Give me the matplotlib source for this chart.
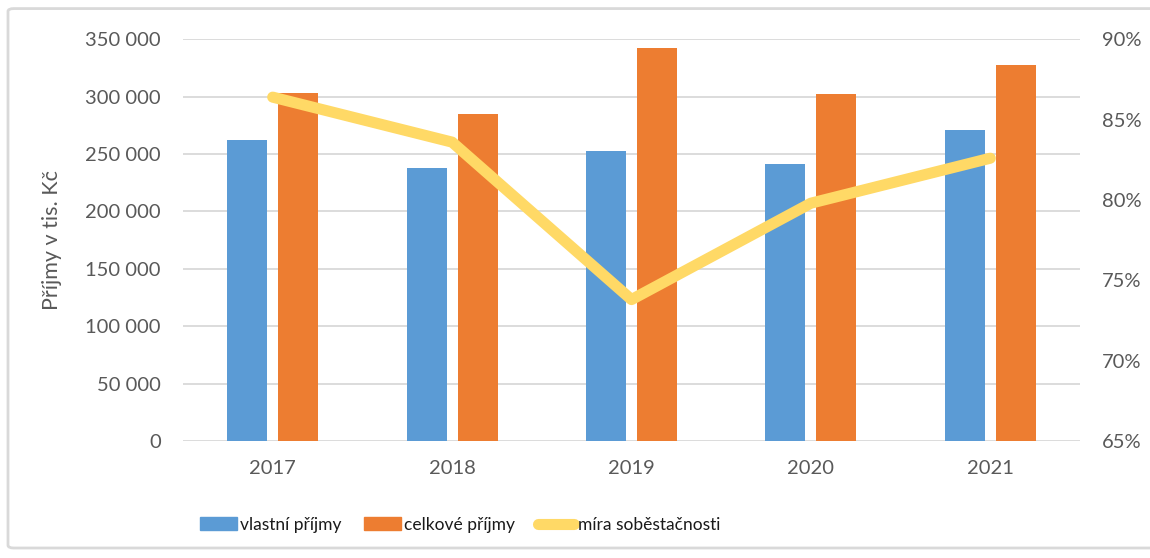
import matplotlib.pyplot as plt
import matplotlib.ticker as mticker
from matplotlib.patches import FancyBboxPatch
from matplotlib.lines import Line2D
from matplotlib.patches import Patch
import numpy as np

years = ["2017", "2018", "2019", "2020", "2021"]
vlastni = [262300, 237900, 252400, 241400, 270700]
celkove = [303500, 284700, 342200, 302600, 327900]
mira = [86.4, 83.6, 73.8, 79.8, 82.6]

BLUE = "#5B9BD5"
ORANGE = "#ED7D31"
YELLOW = "#FFD966"
GRID = "#D9D9D9"
TXT = "#595959"

plt.rcParams['font.family'] = ['Lato', 'DejaVu Sans']

fig = plt.figure(figsize=(11.5, 5.58), dpi=100)
W, H = 1150, 558

# chart border
border = FancyBboxPatch((8 / W, 10 / H), 1.2, (555 - 10) / H - 0.01,
                        boxstyle="round,pad=0,rounding_size=0.005",
                        transform=fig.transFigure, facecolor="white",
                        edgecolor=GRID, linewidth=2, zorder=-5)
fig.patches.append(border)

ax = fig.add_axes([183 / W, 1 - 441 / H, (1080 - 183) / W, (441 - 39.3) / H])
ax.set_facecolor("none")
x = np.arange(len(years))
bw = 0.223
off = 0.142
ax.bar(x - off, vlastni, bw, color=BLUE, zorder=2)
ax.bar(x + off, celkove, bw, color=ORANGE, zorder=2)

ax.set_xlim(-0.5, len(years) - 0.5)
ax.set_ylim(0, 350000)
ax.set_yticks(np.arange(0, 350001, 50000))
ax.yaxis.set_major_formatter(mticker.FuncFormatter(lambda v, p: "{:,}".format(int(v)).replace(",", " ")))
ax.set_xticks(x)
ax.set_xticklabels(years)
ax.grid(axis="y", color=GRID, linewidth=1.3, zorder=0)
ax.set_axisbelow(True)
for s in ax.spines.values():
    s.set_visible(False)
ax.tick_params(length=0, labelsize=14.5, labelcolor=TXT, pad=16)
ax.tick_params(axis="x", pad=14)
ax.set_ylabel("Příjmy v tis. Kč", fontsize=15.5, color=TXT, labelpad=17)

ax2 = ax.twinx()
ax2.plot(x, mira, color=YELLOW, linewidth=8, solid_capstyle="round",
         solid_joinstyle="round", zorder=3)
ax2.set_ylim(65, 90)
ax2.set_yticks(np.arange(65, 91, 5))
ax2.yaxis.set_major_formatter(mticker.FuncFormatter(lambda v, p: "%d%%" % v))
for s in ax2.spines.values():
    s.set_visible(False)
ax2.tick_params(length=0, labelsize=14.5, labelcolor=TXT, pad=16)

handles = [Patch(color=BLUE), Patch(color=ORANGE),
           Line2D([0], [0], color=YELLOW, linewidth=8, solid_capstyle="round")]
labels = ["vlastní příjmy", "celkové příjmy", "míra soběstačnosti"]
leg = fig.legend(handles, labels, ncol=3, loc="center", bbox_to_anchor=(460 / W, 1 - 525 / H),
                 frameon=False, handlelength=2.1, handleheight=0.78,
                 handletextpad=0.2, columnspacing=1.3, fontsize=12.5)
for t in leg.get_texts():
    t.set_color("#1a1a1a")

plt.savefig("out.png", dpi=100)
